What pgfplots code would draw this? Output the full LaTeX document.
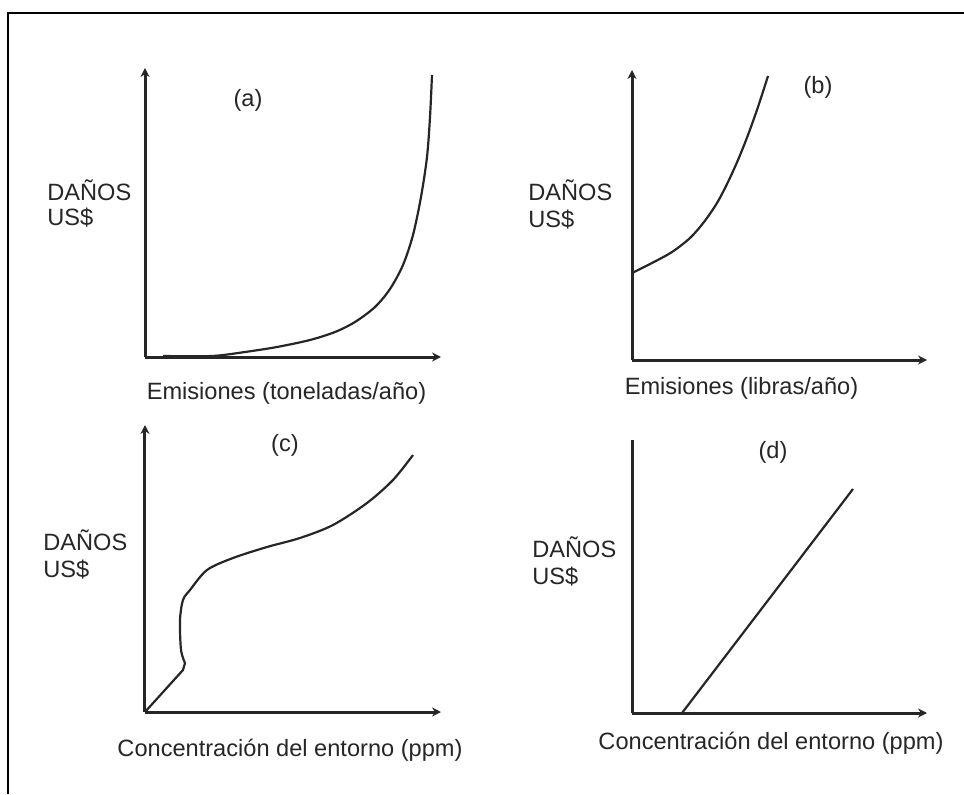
\documentclass[border=0pt]{standalone}
\usepackage{fontspec}
\setmainfont{Liberation Sans}
\usepackage{pgfplots}
\pgfplotsset{compat=1.18}
\usetikzlibrary{arrows.meta}

% all panels share the same look; data are in pixel offsets from the origin
\pgfplotsset{
  panel/.style={
    scale only axis,
    anchor=south west,
    axis lines=left,
    axis line style={black!85, line width=1.5pt, -{Stealth[length=4.5pt,width=4.5pt]}},
    xtick=\empty, ytick=\empty,
    enlargelimits=false,
    clip=false,
    xmin=0, ymin=0,
  },
  curve/.style={black!85, line width=1.1pt, smooth, no marks},
}
\tikzset{lbl/.style={font=\fontsize{11.8}{13}\selectfont, text=black!85, inner sep=0pt}}

\begin{document}
\begin{tikzpicture}
\path[use as bounding box] (0,0) rectangle (482pt,397pt);
\draw[black, line width=1pt] (4pt,0) -- (4pt,390.5pt) -- (482pt,390.5pt);

% (a)
\begin{axis}[panel, at={(72.5pt,218.5pt)}, width=148pt, height=144.5pt,
  xmax=296, ymax=289]
\addplot[curve] coordinates {
(18,1)(67,1)(100,5)(132,10)(165,17)(190,25)(210,35)(230,50)(245,68)(258,92)(268,122)(276,160)(282,200)(285,240)(287,282)
};
\node[lbl] at (axis cs:103,257) {(a)};
\node[lbl, anchor=west] at (axis cs:-98,167) {DAÑOS};
\node[lbl, anchor=west] at (axis cs:-98,139) {US\$};
\node[lbl] at (axis cs:141.5,-36) {Emisiones (toneladas/año)};
\end{axis}

% (b)
\begin{axis}[panel, at={(316pt,217pt)}, width=147.5pt, height=145pt,
  xmax=295, ymax=290]
\addplot[curve] coordinates {
(0,87)(20,97)(40,108)(58,122)(72,138)(85,157)(96,178)(106,200)(116,225)(126,253)(136,284)
};
\node[lbl] at (axis cs:186,273) {(b)};
\node[lbl, anchor=west] at (axis cs:-104,170) {DAÑOS};
\node[lbl, anchor=west] at (axis cs:-104,140) {US\$};
\node[lbl] at (axis cs:109.5,-28) {Emisiones (libras/año)};
\end{axis}

% (c)
\begin{axis}[panel, at={(72.5pt,41pt)}, width=148pt, height=143.5pt,
  xmax=296, ymax=287]
\addplot[black!85, line width=1.1pt, no marks] coordinates {(0,0)(38,42)(40,49)};
\addplot[curve] coordinates {
(40,49)(36,62)(35,92)(38,112)(45,122)(62,142)(88,154)(122,165)(155,174)(188,187)(222,209)(248,232)(268,257)
};
\node[lbl] at (axis cs:140,267) {(c)};
\node[lbl, anchor=west] at (axis cs:-102,172) {DAÑOS};
\node[lbl, anchor=west] at (axis cs:-102,142) {US\$};
\node[lbl] at (axis cs:145,-38) {Concentración del entorno (ppm)};
\end{axis}

% (d)
\begin{axis}[panel, at={(316pt,40.5pt)}, width=147.5pt, height=136.5pt,
  xmax=295, ymax=273, y axis line style={-}]
\addplot[black!85, line width=1.1pt, no marks] coordinates {(50,0)(221,224)};
\node[lbl] at (axis cs:141,261) {(d)};
\node[lbl, anchor=west] at (axis cs:-100,166) {DAÑOS};
\node[lbl, anchor=west] at (axis cs:-100,136) {US\$};
\node[lbl] at (axis cs:139,-30) {Concentración del entorno (ppm)};
\end{axis}
\end{tikzpicture}
\end{document}
